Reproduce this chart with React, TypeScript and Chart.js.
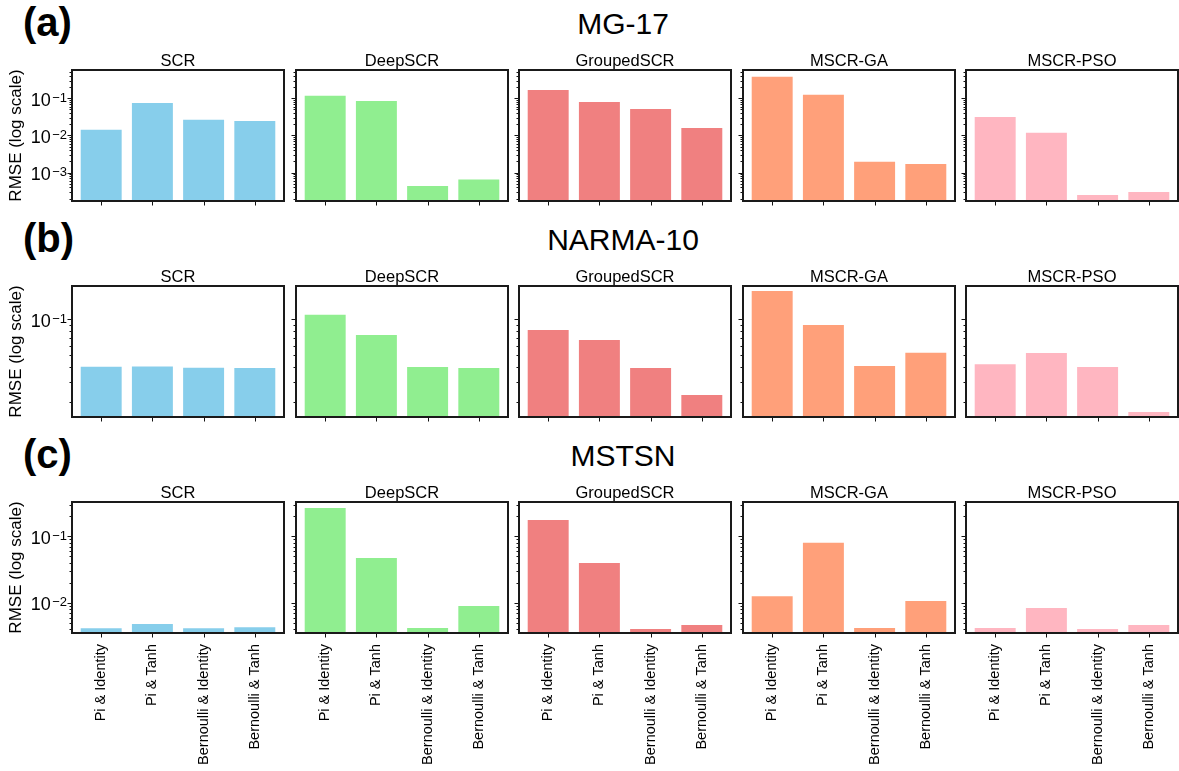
import React, { useEffect, useRef } from 'react';
import { Chart, registerables } from 'chart.js';

Chart.register(...registerables);

const FONT = '"Liberation Sans", Arial, Helvetica, sans-serif';
Chart.defaults.font.family = FONT;

// ---------- data ----------
const DATASET_TITLES = ['MG-17', 'NARMA-10', 'MSTSN'];
const PANEL_LABELS = ['(a)', '(b)', '(c)'];
const MODELS = ['SCR', 'DeepSCR', 'GroupedSCR', 'MSCR-GA', 'MSCR-PSO'];
const CONFIGS = ['Pi & Identity', 'Pi & Tanh', 'Bernoulli & Identity', 'Bernoulli & Tanh'];
const MODEL_COLORS = ['#87CEEB', '#90EE90', '#F08080', '#FFA07A', '#FFB6C1'];
const Y_LABEL = 'RMSE (log scale)';

// MG-17
const MG17_SCR = [0.0143, 0.0748, 0.0266, 0.0245];
const MG17_DEEPSCR = [0.117, 0.0846, 0.00044, 0.00065];
const MG17_GROUPEDSCR = [0.167, 0.0796, 0.0516, 0.0159];
const MG17_MSCR_GA = [0.38, 0.125, 0.00198, 0.00171];
const MG17_MSCR_PSO = [0.0314, 0.0119, 0.00025, 0.0003];

// NARMA-10
const NARMA_SCR = [0.04, 0.0401, 0.0392, 0.039];
const NARMA_DEEPSCR = [0.109, 0.0738, 0.0397, 0.039];
const NARMA_GROUPEDSCR = [0.0813, 0.067, 0.039, 0.0231];
const NARMA_MSCR_GA = [0.173, 0.0896, 0.0405, 0.0524];
const NARMA_MSCR_PSO = [0.042, 0.0521, 0.0397, 0.0166];

// MSTSN
const MSTSN_SCR = [0.00414, 0.0048, 0.00414, 0.00428];
const MSTSN_DEEPSCR = [0.267, 0.0472, 0.00418, 0.00895];
const MSTSN_GROUPEDSCR = [0.176, 0.0397, 0.00404, 0.00464];
const MSTSN_MSCR_GA = [0.0126, 0.08, 0.00418, 0.01065];
const MSTSN_MSCR_PSO = [0.00418, 0.00835, 0.00404, 0.00464];

const RMSE = [
  [MG17_SCR, MG17_DEEPSCR, MG17_GROUPEDSCR, MG17_MSCR_GA, MG17_MSCR_PSO],
  [NARMA_SCR, NARMA_DEEPSCR, NARMA_GROUPEDSCR, NARMA_MSCR_GA, NARMA_MSCR_PSO],
  [MSTSN_SCR, MSTSN_DEEPSCR, MSTSN_GROUPEDSCR, MSTSN_MSCR_GA, MSTSN_MSCR_PSO],
];

// y-axis limits per row (log scale)
const Y_MIN = [1.73e-4, 0.0151, 0.00352];
const Y_MAX = [0.577, 0.1905, 0.329];
// x-axis limits (matplotlib-like margins around bars)
const X_MIN = -0.57;
const X_MAX = 3.57;

// ---------- layout ----------
const PLOT_LEFT = [72, 296, 519, 743, 966];
const PLOT_TOP = [70, 286, 502];
const PLOT_W = 212;
const PLOT_H = 131;
const TITLE_BLOCK = 20;
const PAGE_H = 771;

const SUP_MINUS = '\u2212';

function logTicks(min: number, max: number) {
  const out: { value: number; major: boolean }[] = [];
  const e0 = Math.floor(Math.log10(min));
  const e1 = Math.ceil(Math.log10(max));
  for (let e = e0; e <= e1; e++) {
    for (let d = 1; d <= 9; d++) {
      const v = d * Math.pow(10, e);
      if (v >= min && v <= max) out.push({ value: v, major: d === 1 });
    }
  }
  return out;
}

const frameTicks = {
  id: 'frameTicks',
  afterDraw(chart: any, _args: any, opts: any) {
    const { ctx, chartArea: a, scales } = chart;
    const x = scales.x;
    const y = scales.y;
    ctx.save();
    ctx.strokeStyle = '#111';
    ctx.lineWidth = 1;
    y.ticks.forEach((t: any) => {
      const py = Math.round(y.getPixelForValue(t.value)) + 0.5;
      const len = t.major ? 4.5 : 2.5;
      ctx.beginPath();
      ctx.moveTo(a.left - len, py);
      ctx.lineTo(a.left, py);
      ctx.stroke();
    });
    x.ticks.forEach((t: any) => {
      const px = Math.round(x.getPixelForValue(t.value)) + 0.5;
      ctx.beginPath();
      ctx.moveTo(px, a.bottom);
      ctx.lineTo(px, a.bottom + 4.5);
      ctx.stroke();
    });
    ctx.lineWidth = 2;
    ctx.strokeStyle = '#1a1a1a';
    ctx.strokeRect(a.left, a.top, a.right - a.left, a.bottom - a.top);

    // power-of-ten tick labels with a raised exponent (like matplotlib mathtext)
    if (opts && opts.labels) {
      ctx.fillStyle = '#000';
      ctx.textBaseline = 'alphabetic';
      ctx.textAlign = 'left';
      y.ticks.forEach((t: any) => {
        if (!t.major) return;
        const py = y.getPixelForValue(t.value);
        const exp = Math.round(Math.log10(t.value));
        const base = '10';
        const supTxt = (exp < 0 ? SUP_MINUS : '') + String(Math.abs(exp));
        ctx.font = `18px ${FONT}`;
        const w1 = ctx.measureText(base).width;
        ctx.font = `13px ${FONT}`;
        const w2 = ctx.measureText(supTxt).width;
        const xEnd = a.left - 5;
        const x2 = xEnd - w2;
        const x1 = x2 - w1 - 1.5;
        ctx.font = `18px ${FONT}`;
        ctx.fillText(base, x1, py + 7.5);
        ctx.font = `13px ${FONT}`;
        ctx.fillText(supTxt, x2, py + 3.5);
      });
    }
    ctx.restore();
  },
};

function Panel({ r, c }: { r: number; c: number }) {
  const ref = useRef<HTMLCanvasElement | null>(null);
  const leftMargin = c === 0 ? PLOT_LEFT[0] : 8;
  const bottomMargin = r === 2 ? PAGE_H - (PLOT_TOP[2] + PLOT_H) : 8;
  const width = leftMargin + PLOT_W + 2;
  const height = TITLE_BLOCK + PLOT_H + bottomMargin;
  const left = PLOT_LEFT[c] - leftMargin;
  const top = PLOT_TOP[r] - TITLE_BLOCK;

  useEffect(() => {
    if (!ref.current) return;
    const values = RMSE[r][c];
    const yMin = Y_MIN[r];
    const yMax = Y_MAX[r];
    const chart = new Chart(ref.current, {
      type: 'bar',
      data: {
        datasets: [
          {
            label: MODELS[c],
            data: values.map((v, i) => ({ x: i, y: v })),
            backgroundColor: MODEL_COLORS[c],
            borderWidth: 0,
            barPercentage: 0.8,
            categoryPercentage: 1,
          },
        ],
      },
      options: {
        responsive: false,
        animation: false,
        events: [],
        layout: { padding: { top: 0, left: 0, bottom: 0, right: 2 } },
        plugins: {
          legend: { display: false },
          tooltip: { enabled: false },
          frameTicks: { labels: c === 0 },
          title: {
            display: true,
            fullSize: false,
            text: MODELS[c],
            color: '#000',
            font: { size: 16.5, weight: 'normal', lineHeight: 1, family: FONT },
            padding: { top: 3.5, bottom: 0 },
          },
        },
        scales: {
          x: {
            type: 'linear',
            min: X_MIN,
            max: X_MAX,
            offset: false,
            bounds: 'data',
            afterBuildTicks: (s: any) => {
              s.ticks = CONFIGS.map((_, i) => ({ value: i }));
            },
            afterFit: (s: any) => {
              s.height = bottomMargin;
              s.paddingLeft = 0;
              s.paddingRight = 0;
              s.paddingTop = 0;
              s.paddingBottom = 0;
            },
            grid: { display: false, drawTicks: true, tickLength: 4, offset: false },
            border: { display: false },
            ticks: {
              display: r === 2,
              autoSkip: false,
              minRotation: 90,
              maxRotation: 90,
              padding: 7,
              color: '#000',
              font: { size: 14.5, family: FONT },
              callback: (v: any) => CONFIGS[Math.round(Number(v))] ?? '',
            },
          },
          y: {
            type: 'logarithmic',
            min: yMin,
            max: yMax,
            bounds: 'data',
            afterBuildTicks: (s: any) => {
              s.ticks = logTicks(yMin, yMax);
            },
            afterFit: (s: any) => {
              s.width = leftMargin;
              s.paddingLeft = 0;
              s.paddingRight = 0;
              s.paddingTop = 0;
              s.paddingBottom = 0;
            },
            grid: { display: false, drawTicks: true, tickLength: 4 },
            border: { display: false },
            ticks: {
              display: false,
              autoSkip: false,
              callback: (v: any, i: number, ticks: any[]) =>
                ticks[i] && ticks[i].major ? '10^' + Math.round(Math.log10(Number(v))) : '',
            },
            title: {
              display: c === 0,
              text: Y_LABEL,
              color: '#000',
              font: { size: 17, lineHeight: 1, family: FONT },
              padding: { top: 8, bottom: 0 },
            },
          },
        },
      } as any,
      plugins: [frameTicks],
    });
    return () => chart.destroy();
  }, [r, c, leftMargin, bottomMargin]);

  return (
    <canvas
      ref={ref}
      width={width}
      height={height}
      style={{ position: 'absolute', left, top, width, height }}
    />
  );
}

export default function App() {
  return (
    <div
      style={{
        position: 'absolute',
        left: 0,
        top: 0,
        width: 1179,
        height: 771,
        background: '#fff',
        overflow: 'hidden',
        fontFamily: FONT,
        color: '#000',
      }}
    >
      {DATASET_TITLES.map((title, r) => (
        <React.Fragment key={title}>
          <div
            style={{
              position: 'absolute',
              left: 23,
              top: 1.5 + r * 216,
              fontSize: 40,
              lineHeight: '40px',
              fontWeight: 700,
              whiteSpace: 'nowrap',
            }}
          >
            {PANEL_LABELS[r]}
          </div>
          <div
            style={{
              position: 'absolute',
              left: 323,
              width: 600,
              top: 8.6 + r * 216,
              fontSize: 30,
              lineHeight: '30px',
              textAlign: 'center',
              whiteSpace: 'nowrap',
            }}
          >
            {title}
          </div>
          {MODELS.map((m, c) => (
            <Panel key={m} r={r} c={c} />
          ))}
        </React.Fragment>
      ))}
    </div>
  );
}
